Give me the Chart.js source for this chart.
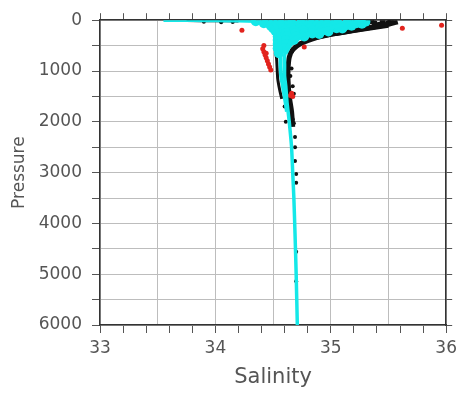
<!DOCTYPE html>
<html>
<head>
<meta charset="utf-8">
<script src="https://cdn.jsdelivr.net/npm/chart.js@4.4.0/dist/chart.umd.min.js"></script>
<style>
  body { margin: 0; background: #fff; }
  canvas { display: block; }
</style>
</head>
<body>
<canvas id="tsChart" width="462" height="394"></canvas>
<script>
// axis ticks
var salinityTicks = [33, 33.2, 33.4, 33.5, 33.6, 33.8, 34, 34.2, 34.4, 34.5, 34.6, 34.8, 35, 35.2, 35.4, 35.5, 35.6, 35.8, 36];
var pressureTicks = [0, 500, 1000, 1500, 2000, 2500, 3000, 3500, 4000, 4500, 5000, 5500, 6000];

// cyan profiles [salinity, pressure]
var cyanCasts = [
    [[35.28, 5], [35.15, 60], [35.0, 150], [34.85, 230], [34.72, 320], [34.65, 420], [34.62, 550], [34.6, 700], [34.6, 900], [34.6, 1100], [34.61, 1300], [34.62, 1600], [34.64, 2000], [34.66, 2500], [34.67, 3000], [34.68, 3500], [34.69, 4200], [34.70, 5000], [34.71, 6000]],
    [[34.5, 30], [34.53, 150], [34.55, 300], [34.56, 500], [34.565, 700], [34.565, 900], [34.57, 1100], [34.585, 1300], [34.6, 1500], [34.62, 1800]],
    [[33.55, 5], [33.8, 8], [34.0, 12], [34.2, 18], [34.35, 25]],
    [[35.3, 15], [35.2, 60], [35.08, 120], [34.95, 190], [34.83, 270], [34.74, 340], [34.68, 420], [34.64, 520], [34.61, 650]]
];
var cyanWidths = [3.5, 4, 3, 4];
var cyanDots = [
    [34.35, 20], [34.45, 20], [34.55, 20], [34.65, 20], [34.75, 20], [34.85, 20], [34.95, 20], [35.05, 20], [35.15, 20], [35.25, 20], [35.3, 30],
    [34.42, 60], [34.5, 60], [34.58, 60], [34.66, 60], [34.74, 60], [34.82, 60], [34.9, 60], [34.98, 60], [35.06, 60], [35.14, 60], [35.22, 60], [35.27, 70],
    [34.48, 110], [34.56, 110], [34.64, 110], [34.72, 110], [34.8, 110], [34.88, 110], [34.96, 110], [35.04, 110], [35.12, 110], [35.18, 110],
    [34.5, 160], [34.58, 160], [34.66, 160], [34.74, 160], [34.82, 160], [34.9, 160], [34.98, 160], [35.05, 160], [35.1, 165],
    [34.52, 210], [34.6, 210], [34.68, 210], [34.76, 210], [34.84, 210], [34.92, 210], [34.98, 220],
    [34.54, 260], [34.61, 260], [34.69, 260], [34.77, 260], [34.84, 260], [34.9, 270],
    [34.54, 320], [34.62, 320], [34.7, 320], [34.77, 320],
    [34.54, 390], [34.61, 390], [34.68, 390],
    [34.54, 470], [34.61, 470],
    [34.54, 550], [34.6, 550],
    [34.55, 650]
];

// black profiles and points
var blackCasts = [
    [[35.58, 30], [35.5, 80], [35.38, 130], [35.2, 200], [35.0, 280], [34.85, 360], [34.74, 460], [34.67, 580], [34.64, 730], [34.63, 950], [34.63, 1200], [34.64, 1500], [34.66, 1800], [34.67, 2100]],
    [[35.5, 120], [35.3, 190], [35.1, 260], [34.92, 330], [34.78, 420], [34.7, 520], [34.66, 650]],
    [[34.52, 620], [34.53, 750], [34.535, 950], [34.54, 1150], [34.555, 1350], [34.575, 1550]],
    [[33.75, 18], [34.0, 22], [34.2, 24]]
];
var blackWidths = [5, 3, 3, 2];
var blackBlob = [[35.35, 20], [35.45, 30], [35.5, 50], [35.42, 90], [35.3, 110], [35.38, 60], [35.52, 20], [35.32, 40], [35.28, 110], [35.15, 180], [35.05, 240]];
var blackDots = [[34.68, 2030], [34.69, 2300], [34.69, 2500], [34.69, 2770], [34.7, 3030], [34.7, 3200], [34.7, 4560], [34.7, 5140], [34.62, 1600], [34.6, 1700], [34.66, 950], [34.65, 1100], [34.67, 1300], [34.68, 1450], [34.67, 1950], [34.61, 2000], [33.9, 30], [34.05, 40], [34.15, 35]];

// flagged (red) points
var redDots = [[34.42, 500], [34.41, 560], [34.42, 620], [34.43, 680], [34.44, 740], [34.45, 800], [34.46, 860], [34.47, 920], [34.48, 980], [34.44, 650], [34.23, 200], [34.77, 530], [35.62, 160], [35.96, 100], [34.66, 1440], [34.67, 1500], [34.65, 1480]];

var CYAN = '#14e8e8';
var BLACK = '#111111';
var RED = '#e2231d';

function toXY(arr) {
    return arr.map(function (p) { return { x: p[0], y: p[1] }; });
}

var datasets = [];
cyanCasts.forEach(function (c, i) {
    datasets.push({ data: toXY(c), showLine: true, borderColor: CYAN, borderWidth: cyanWidths[i], pointRadius: 0, tension: 0.2 });
});
datasets.push({ data: toXY(cyanDots), pointRadius: 5, pointBackgroundColor: CYAN, pointBorderWidth: 0 });
datasets.push({ data: toXY(redDots), pointRadius: 2.5, pointBackgroundColor: RED, pointBorderWidth: 0 });
blackCasts.forEach(function (c, i) {
    datasets.push({ data: toXY(c), showLine: true, borderColor: BLACK, borderWidth: blackWidths[i], pointRadius: 0, tension: 0.2 });
});
datasets.push({ data: toXY(blackBlob), pointRadius: 3, pointBackgroundColor: BLACK, pointBorderWidth: 0 });
datasets.push({ data: toXY(blackDots), pointRadius: 2, pointBackgroundColor: BLACK, pointBorderWidth: 0 });

function isMult(v, step) {
    var r = v / step;
    return Math.abs(r - Math.round(r)) < 1e-6;
}
function setTicks(list) {
    return function (scale) {
        scale.ticks = list.map(function (v) { return { value: v }; });
    };
}
function fixSize(w, h) {
    return function (scale) {
        if (w != null) scale.width = w;
        if (h != null) scale.height = h;
    };
}

var tickFont = { family: 'DejaVu Sans', size: 17 };
var gridX = function (ctx) { return isMult(ctx.tick.value, 0.5) ? '#bdbdbd' : 'rgba(0,0,0,0)'; };
var tickX = function (ctx) { return isMult(ctx.tick.value, 0.2) ? '#555' : 'rgba(0,0,0,0)'; };

var ctx = document.getElementById('tsChart').getContext('2d');
var tsChart = new Chart(ctx, {
    type: 'scatter',
    data: { datasets: datasets },
    options: {
        responsive: false,
        animation: false,
        layout: { padding: 0 },
        plugins: { legend: { display: false }, tooltip: { enabled: false } },
        scales: {
            x: {
                type: 'linear', position: 'bottom', min: 33, max: 36,
                afterBuildTicks: setTicks(salinityTicks),
                afterFit: fixSize(null, 69),
                grid: { color: gridX, tickColor: tickX, tickLength: 8, lineWidth: 1 },
                border: { color: '#333', width: 1.5 },
                ticks: {
                    autoSkip: false, maxRotation: 0, padding: 5, color: '#555', font: tickFont,
                    callback: function (v) { return isMult(v, 1) ? String(Math.round(v)) : ''; }
                },
                title: { display: true, text: 'Salinity', color: '#555', font: { family: 'DejaVu Sans', size: 21 }, padding: { top: 0, bottom: 4 } }
            },
            x2: {
                type: 'linear', axis: 'x', position: 'top', min: 33, max: 36,
                afterBuildTicks: setTicks(salinityTicks),
                afterFit: fixSize(null, 20),
                grid: { drawOnChartArea: false, tickColor: tickX, tickLength: 7 },
                border: { color: '#333', width: 1.5 },
                ticks: { autoSkip: false, maxRotation: 0, callback: function () { return ''; } }
            },
            y: {
                type: 'linear', position: 'left', min: 0, max: 6000, reverse: true,
                afterBuildTicks: setTicks(pressureTicks),
                afterFit: fixSize(100, null),
                grid: { color: '#bdbdbd', tickColor: '#555', tickLength: 8, lineWidth: 1 },
                border: { color: '#333', width: 1.5 },
                ticks: {
                    autoSkip: false, padding: 10, color: '#555', font: tickFont,
                    callback: function (v) { return isMult(v, 1000) ? String(v) : ''; }
                },
                title: { display: true, text: 'Pressure', color: '#555', font: { family: 'DejaVu Sans', size: 17 }, padding: { top: 9, bottom: 0 } }
            },
            y2: {
                type: 'linear', axis: 'y', position: 'right', min: 0, max: 6000, reverse: true,
                afterBuildTicks: setTicks(pressureTicks),
                afterFit: fixSize(15, null),
                grid: { drawOnChartArea: false, tickColor: '#555', tickLength: 6 },
                border: { color: '#333', width: 1.5 },
                ticks: { autoSkip: false, callback: function () { return ''; } }
            }
        }
    }
});
</script>
</body>
</html>
